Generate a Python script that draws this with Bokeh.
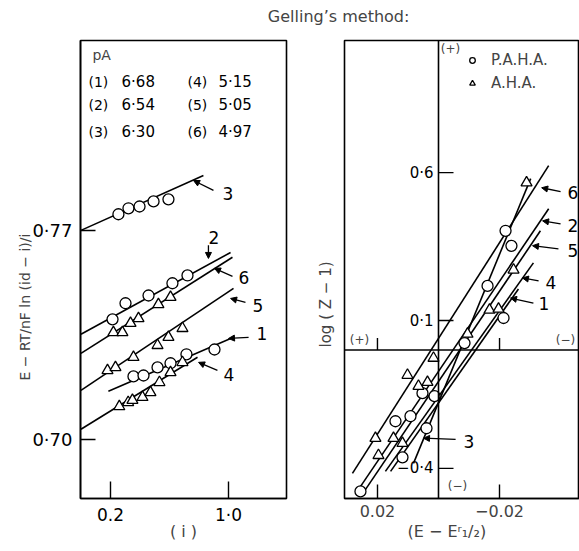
from math import pi
from bokeh.plotting import figure
from bokeh.models import (Range1d, FixedTicker, ColumnDataSource, Arrow, NormalHead,
                          Label, Span, Legend, LegendItem, Title)
from bokeh.layouts import row, column
from bokeh.embed import file_html
from bokeh.resources import INLINE
from bokeh.core.properties import value

FONT = "DejaVu Sans"

# ---------------- left panel: legend of pA values ----------------
pa_ids_a = ["(1)", "(2)", "(3)"]
pa_vals_a = ["6·68", "6·54", "6·30"]
pa_ids_b = ["(4)", "(5)", "(6)"]
pa_vals_b = ["5·15", "5·05", "4·97"]

# ---------------- left panel data ----------------
s1_x = [0.356, 0.424, 0.519, 0.607, 0.715, 0.905]
s1_y = [0.7211, 0.7214, 0.7241, 0.7255, 0.7285, 0.7301]
s2_x = [0.214, 0.302, 0.458, 0.620, 0.722]
s2_y = [0.7402, 0.7456, 0.7482, 0.7523, 0.7549]
s3_x = [0.254, 0.322, 0.397, 0.492, 0.593]
s3_y = [0.7754, 0.7774, 0.7780, 0.7797, 0.7804]
s4_x = [0.260, 0.320, 0.349, 0.417, 0.471, 0.532, 0.607, 0.688]
s4_y = [0.7110, 0.7124, 0.7131, 0.7141, 0.7157, 0.7191, 0.7224, 0.7258]
s5_x = [0.180, 0.234, 0.356, 0.519, 0.593, 0.688]
s5_y = [0.7231, 0.7241, 0.7275, 0.7315, 0.7342, 0.7372]
s6_x = [0.220, 0.281, 0.336, 0.390, 0.525, 0.607]
s6_y = [0.7358, 0.7358, 0.7389, 0.7405, 0.7452, 0.7476]

# straight lines (1..6) drawn through each set
left_fit_x0 = [0.186, 0.0, 0.0, 0.0, 0.0, 0.0]
left_fit_y0 = [0.7161, 0.7352, 0.7700, 0.7034, 0.7164, 0.7288]
left_fit_x1 = [1.034, 1.014, 0.830, 0.790, 1.034, 1.027]
left_fit_y1 = [0.7342, 0.7626, 0.7884, 0.7275, 0.7506, 0.7610]

left_xticks = [0.2, 1.0]
left_xtick_labels = ["0.2", "1·0"]
left_yticks = [0.70, 0.77]
left_ytick_labels = ["0·70", "0·77"]

# curve labels with arrows
left_lab_text = ["3", "2", "6", "5", "1", "4"]
left_lab_x = [0.959, 0.864, 1.068, 1.163, 1.190, 0.966]
left_lab_y = [0.7824, 0.7677, 0.7543, 0.7449, 0.7355, 0.7218]
left_arr_x0 = [0.898, 0.864, 1.027, 1.115, 1.136, 0.925]
left_arr_y0 = [0.7834, 0.7650, 0.7546, 0.7459, 0.7342, 0.7231]
left_arr_x1 = [0.763, 0.864, 0.905, 1.014, 1.000, 0.797]
left_arr_y1 = [0.7867, 0.7606, 0.7573, 0.7472, 0.7338, 0.7258]

# ---------------- right panel data: log(Z-1) vs (E - E1/2) ----------------
pah_x = [-0.02197, -0.0239, -0.01607, -0.02131, -0.00852, 0.00525, 0.00131,
         0.00918, 0.0141, 0.00393, 0.0118, 0.02557]
pah_y = [0.4034, 0.3525, 0.2169, 0.1085, 0.0237, -0.1458, -0.1559,
         -0.2237, -0.2407, -0.2644, -0.3627, -0.4780]
ah_x = [-0.02885, -0.02459, -0.01672, -0.01967, -0.00951, 0.00164, 0.01016,
        0.00656, 0.00361, 0.02066, 0.01475, 0.0118, 0.01967]
ah_y = [0.5661, 0.2712, 0.1356, 0.1390, 0.0542, -0.0271, -0.0847,
        -0.1220, -0.1085, -0.2983, -0.2983, -0.3153, -0.3559]

right_fit_x0 = [0.0157, 0.0262, 0.0082, 0.0174, 0.0239, 0.0282]
right_fit_y0 = [-0.4102, -0.4712, -0.3831, -0.4102, -0.4712, -0.4169]
right_fit_x1 = [-0.0262, -0.0361, -0.0302, -0.0311, -0.0334, -0.0361]
right_fit_y1 = [0.2068, 0.4780, 0.5797, 0.2949, 0.4034, 0.6237]

right_xticks = [0.02, -0.02]
right_xtick_labels = ["0.02", "−0.02"]
right_yticks = [0.6, 0.1, -0.4]
right_ytick_labels = ["0·6", "0·1", "−0·4"]

right_lab_text = ["6", "2", "5", "4", "1", "3"]
right_lab_x = [-0.0423, -0.0423, -0.0423, -0.0351, -0.0328, -0.0082]
right_lab_y = [0.532, 0.420, 0.336, 0.227, 0.156, -0.308]
right_arr_x0 = [-0.0400, -0.0400, -0.0393, -0.0328, -0.0311, -0.0056]
right_arr_y0 = [0.5356, 0.427, 0.342, 0.234, 0.159, -0.302]
right_arr_x1 = [-0.0338, -0.0341, -0.0308, -0.0275, -0.0236, 0.0049]
right_arr_y1 = [0.549, 0.437, 0.353, 0.244, 0.176, -0.298]

mk = dict(size=11, fill_color="white", line_color="black", line_width=1.3)

# ======================= TITLE STRIP =======================
pt = figure(width=579, height=32, x_range=Range1d(0, 1), y_range=Range1d(0, 1),
            output_backend="svg", toolbar_location=None, x_axis_location=None,
            y_axis_location=None, min_border=0)
pt.grid.visible = False
pt.outline_line_color = None
pt.add_layout(Label(x=0.584, y=0.50, text="Gelling’s method:", text_font=FONT,
                    text_font_size="16px", text_align="center", text_baseline="middle"))

# ======================= LEFT FIGURE =======================
p1 = figure(width=304, height=519, x_range=Range1d(-0.003, 1.393),
            y_range=Range1d(0.6802, 0.8336), output_backend="svg",
            toolbar_location=None, min_border_left=80, min_border_right=18,
            min_border_top=8, min_border_bottom=53)
p1.grid.visible = False
p1.outline_line_color = "black"
p1.outline_line_width = 1.6

for ax in (p1.xaxis[0], p1.yaxis[0]):
    ax.axis_line_width = 1.6
    ax.major_tick_out = 0
    ax.minor_tick_out = 0
    ax.minor_tick_in = 0
    ax.major_tick_line_width = 1.4
    ax.major_label_text_font = FONT
    ax.major_label_text_font_size = "17px"
    ax.major_label_text_color = "black"
p1.yaxis.major_label_text_font_size = "18px"
p1.xaxis.ticker = FixedTicker(ticks=left_xticks)
p1.xaxis.major_label_overrides = dict(zip(left_xticks, left_xtick_labels))
p1.xaxis.major_tick_in = 17
p1.xaxis.major_label_standoff = 6
p1.xaxis.axis_label = "( i )"
p1.xaxis.axis_label_text_font = FONT
p1.xaxis.axis_label_text_font_size = "16px"
p1.xaxis.axis_label_text_font_style = "normal"
p1.xaxis.axis_label_standoff = -6
p1.yaxis.ticker = FixedTicker(ticks=left_yticks)
p1.yaxis.major_label_overrides = dict(zip(left_yticks, left_ytick_labels))
p1.yaxis.major_tick_in = 15
p1.yaxis.major_label_standoff = 8

p1.add_layout(Title(text="E − RT/nF ln (id − i)/i", align="left", offset=118,
                    standoff=-6, text_font=FONT, text_font_size="14px",
                    text_font_style="normal"), "left")

p1.segment(x0=left_fit_x0, y0=left_fit_y0, x1=left_fit_x1, y1=left_fit_y1,
           line_color="black", line_width=1.6)
for xs, ys in ((s1_x, s1_y), (s2_x, s2_y), (s3_x, s3_y)):
    p1.scatter(xs, ys, marker="circle", **mk)
for xs, ys in ((s4_x, s4_y), (s5_x, s5_y), (s6_x, s6_y)):
    p1.scatter(xs, ys, marker="triangle", **mk)

p1.add_layout(Arrow(end=NormalHead(size=6, fill_color="black", line_color="black"),
                    source=ColumnDataSource(dict(x0=left_arr_x0, y0=left_arr_y0,
                                                 x1=left_arr_x1, y1=left_arr_y1)),
                    x_start="x0", y_start="y0", x_end="x1", y_end="y1",
                    line_color="black", line_width=1.3))
p1.text(x=left_lab_x, y=left_lab_y, text=left_lab_text, text_font=value(FONT),
        text_font_size="17px", text_align="left", text_baseline="middle")

# legend block of pA values
p1.add_layout(Label(x=0.078, y=0.8286, text="pA", text_font=FONT, text_font_size="14px",
                    text_align="left", text_baseline="middle"))
leg_rows_y = [0.8196, 0.8119, 0.8028]
p1.text(x=[0.051] * 3, y=leg_rows_y, text=pa_ids_a, text_font=value(FONT),
        text_font_size="14px", text_baseline="middle")
p1.text(x=[0.275] * 3, y=leg_rows_y, text=pa_vals_a, text_font=value(FONT),
        text_font_size="15px", text_baseline="middle")
p1.text(x=[0.722] * 3, y=leg_rows_y, text=pa_ids_b, text_font=value(FONT),
        text_font_size="14px", text_baseline="middle")
p1.text(x=[0.932] * 3, y=leg_rows_y, text=pa_vals_b, text_font=value(FONT),
        text_font_size="15px", text_baseline="middle")

# ======================= RIGHT FIGURE =======================
p2 = figure(width=275, height=519, x_range=Range1d(0.0308, -0.0462),
            y_range=Range1d(-0.502, 1.047), output_backend="svg",
            toolbar_location=None, y_axis_location=None, min_border_left=40,
            min_border_right=0, min_border_top=8, min_border_bottom=53)
p2.grid.visible = False
p2.outline_line_color = "black"
p2.outline_line_width = 1.6
ax = p2.xaxis[0]
ax.ticker = FixedTicker(ticks=right_xticks)
ax.major_label_overrides = dict(zip(right_xticks, right_xtick_labels))
ax.axis_line_width = 1.6
ax.major_tick_out = 0
ax.major_tick_in = 14
ax.minor_tick_out = 0
ax.minor_tick_in = 0
ax.major_tick_line_width = 1.4
ax.major_label_text_font = FONT
ax.major_label_text_font_size = "16px"
ax.major_label_standoff = 6

p2.add_layout(Title(text="log ( Z − 1)", align="left", offset=151, standoff=19,
                    text_font=FONT, text_font_size="15px", text_font_style="normal"),
              "left")
p2.add_layout(Title(text="(E − Eʳ₁/₂)", align="left", offset=63, standoff=0,
                    text_font=FONT, text_font_size="16px", text_font_style="normal"),
              "below")

# central (+)/(-) axes at zero
p2.add_layout(Span(location=0, dimension="height", line_color="black", line_width=1.6))
p2.add_layout(Span(location=0, dimension="width", line_color="black", line_width=1.6))
p2.ray(x=[0] * len(right_yticks), y=right_yticks, length=15, length_units="screen",
       angle=0, line_color="black", line_width=1.4)
p2.ray(x=right_xticks, y=[0] * len(right_xticks), length=12, length_units="screen",
       angle=pi / 2, line_color="black", line_width=1.4)
p2.text(x=[0] * len(right_yticks), y=right_yticks, text=right_ytick_labels,
        x_offset=-5, text_font=value(FONT), text_font_size="15px",
        text_align="right", text_baseline="middle")

p2.segment(x0=right_fit_x0, y0=right_fit_y0, x1=right_fit_x1, y1=right_fit_y1,
           line_color="black", line_width=1.6)
r_c = p2.scatter(pah_x, pah_y, marker="circle", **mk)
r_t = p2.scatter(ah_x, ah_y, marker="triangle", **mk)

p2.add_layout(Arrow(end=NormalHead(size=6, fill_color="black", line_color="black"),
                    source=ColumnDataSource(dict(x0=right_arr_x0, y0=right_arr_y0,
                                                 x1=right_arr_x1, y1=right_arr_y1)),
                    x_start="x0", y_start="y0", x_end="x1", y_end="y1",
                    line_color="black", line_width=1.3))
p2.text(x=right_lab_x, y=right_lab_y, text=right_lab_text, text_font=value(FONT),
        text_font_size="17px", text_align="left", text_baseline="middle")

for x, y, t in ((-0.0039, 1.017, "(+)"), (0.0259, 0.034, "(+)"),
                (-0.0416, 0.034, "(−)"), (-0.0062, -0.461, "(−)")):
    p2.add_layout(Label(x=x, y=y, text=t, text_font=FONT, text_font_size="12px",
                        text_align="center", text_baseline="middle"))

legend = Legend(items=[LegendItem(label="P.A.H.A.", renderers=[r_c]),
                       LegendItem(label="A.H.A.", renderers=[r_t])],
                location=(121, 405), padding=0, margin=0, spacing=3,
                glyph_width=14, glyph_height=20, label_height=20, label_standoff=12,
                label_text_font=FONT, label_text_font_size="15px",
                background_fill_alpha=0, border_line_color=None)
p2.add_layout(legend)

layout = column(pt, row(p1, p2))
open("out.html", "w").write(file_html(layout, INLINE))
